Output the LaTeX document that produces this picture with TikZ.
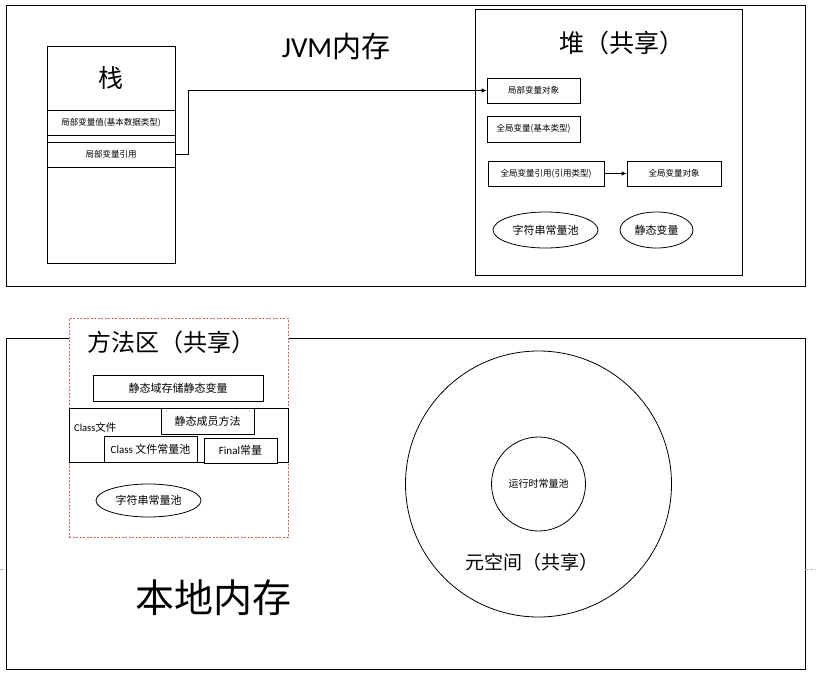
\documentclass[tikz,border=0pt]{standalone}
\usepackage{fontspec}
\setmainfont{Noto Sans CJK SC}
\newfontfamily\latfont{Carlito}
\usetikzlibrary{shapes.geometric,arrows.meta}
\tikzset{
  box/.style={draw, line width=0.8pt, fill=white, inner sep=0pt, anchor=center},
  cell/.style={draw, line width=0.8pt, fill=white, inner sep=0pt, font=\fontsize{8.5}{9}\selectfont},
  pool/.style={draw, ellipse, line width=0.8pt, fill=white, inner sep=0pt, font=\fontsize{11}{12}\selectfont},
  arr/.style={line width=0.8pt, -{Latex[length=5pt,width=4.5pt]}},
  lbl/.style={inner sep=0pt}
}
\begin{document}
\begin{tikzpicture}[x=1pt,y=-1pt]
\useasboundingbox (0,0) rectangle (816,674);
\fill[white] (0,0) rectangle (816,674);
% outer frames
\node[box, minimum width=799pt, minimum height=281pt] (jvm) at (405.5,145.5) {};
\node[box, minimum width=799pt, minimum height=331pt] (native) at (405.5,503.5) {};
\draw[gray!60, line width=0.6pt, dash pattern=on 3pt off 2pt] (0,569) -- (6,569);
\draw[gray!60, line width=0.6pt, dash pattern=on 3pt off 2pt] (805,569) -- (816,569);
% titles
\node[lbl, font=\fontsize{29}{30}\selectfont] (jvmt) at (336,47) {{\latfont JVM}内存};
\node[lbl, font=\fontsize{39}{40}\selectfont] (nativet) at (213,598) {本地内存};
% stack
\node[box, minimum width=128pt, minimum height=217pt] (stack) at (111,154.5) {};
\node[lbl, font=\fontsize{25}{26}\selectfont] (stackt) at (111,78) {栈};
\node[cell, minimum width=128pt, minimum height=25pt] (val) at (111,123.2) {局部变量值(基本数据类型)};
\node[cell, minimum width=128pt, minimum height=24.7pt] (ref) at (111,154.7) {局部变量引用};
% heap
\node[box, minimum width=267pt, minimum height=266pt] (heap) at (608.5,142) {};
\node[lbl, font=\fontsize{25}{26}\selectfont] (heapt) at (622,43) {堆（共享）};
\node[cell, minimum width=93pt, minimum height=25pt] (hobj) at (533.5,90.5) {局部变量对象};
\node[cell, minimum width=93pt, minimum height=26pt] (gbasic) at (533.5,129) {全局变量(基本类型)};
\node[cell, minimum width=116pt, minimum height=25pt] (gref) at (546,173.5) {全局变量引用(引用类型)};
\node[cell, minimum width=94pt, minimum height=25pt] (gobj) at (674,173.5) {全局变量对象};
\node[pool, minimum width=105pt, minimum height=36pt] (hpool) at (545.5,230) {字符串常量池};
\node[pool, minimum width=73pt, minimum height=36pt] (hstatic) at (656.5,230) {静态变量};
% arrows
\draw[arr] (ref.east) -- ++(13,0) |- (hobj.west);
\draw[arr] (gref.east) -- (gobj.west);
% method area
\node[draw=red!70!black!60, dash pattern=on 2pt off 1.5pt, line width=0.6pt, fill=white, minimum width=219pt, minimum height=219pt, inner sep=0pt] (method) at (178.5,427.5) {};
\node[lbl, font=\fontsize{24}{25}\selectfont] (methodt) at (171,342) {方法区（共享）};
\node[cell, font=\fontsize{11}{12}\selectfont, minimum width=170pt, minimum height=26pt] (sfield) at (178,388) {静态域存储静态变量};
\node[box, minimum width=219pt, minimum height=54pt] (cfile) at (178.5,435) {};
\node[lbl, font=\fontsize{10.5}{11}\selectfont, anchor=west] (cfilet) at (74,427) {{\latfont Class}文件};
\node[cell, font=\fontsize{11}{12}\selectfont, minimum width=93pt, minimum height=26pt] (smethod) at (207.5,421) {静态成员方法};
\node[cell, font=\fontsize{11}{12}\selectfont, minimum width=93pt, minimum height=26pt] (cpool) at (150.5,449) {{\latfont Class} 文件常量池};
\node[cell, font=\fontsize{11}{12}\selectfont, minimum width=73pt, minimum height=25pt] (fconst) at (240.5,450.5) {{\latfont Final}常量};
\node[pool, minimum width=105pt, minimum height=33pt] (mpool) at (148.5,500.5) {字符串常量池};
% metaspace
\node[draw, circle, line width=0.8pt, minimum size=266pt, inner sep=0pt] (meta) at (538.5,484) {};
\node[draw, circle, line width=0.8pt, minimum size=94pt, inner sep=0pt, font=\fontsize{10}{11}\selectfont] (rpool) at (538.5,484) {运行时常量池};
\node[lbl, font=\fontsize{19}{20}\selectfont] (metat) at (532,562) {元空间（共享）};
\end{tikzpicture}
\end{document}
